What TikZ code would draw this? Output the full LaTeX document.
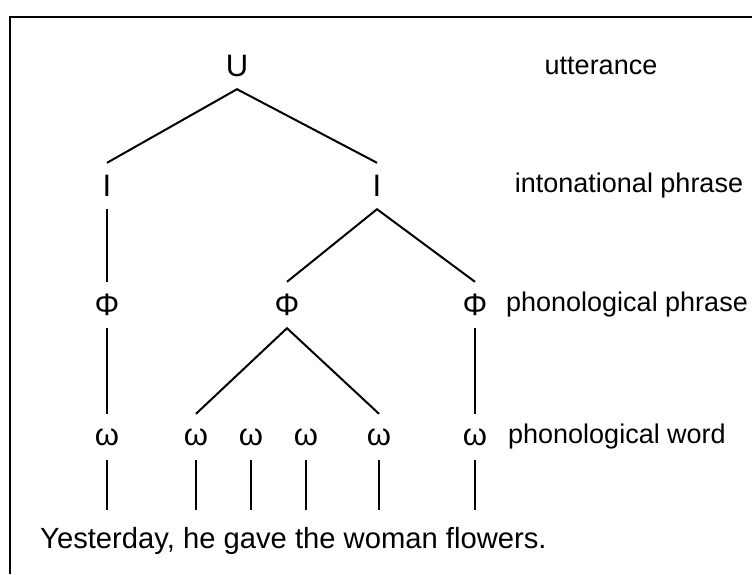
\documentclass[tikz,border=0pt]{standalone}
\usepackage{fontspec}
\setmainfont{Liberation Sans}
\usetikzlibrary{positioning}

\begin{document}
\begin{tikzpicture}[
  x=1pt, y=-1pt,
  unit/.style={inner sep=0pt, minimum height=46pt, font=\fontsize{31}{35}\selectfont},
  tierlabel/.style={inner sep=0pt, font=\fontsize{27}{31}\selectfont},
  branch/.style={line width=2pt},
  frame/.style={line width=2.5pt},
]
\useasboundingbox (0,0) rectangle (752,574);

% Rahmen (nur oben und links sichtbar)
\draw[frame] (752,17) -- (10,17) -- (10,574);

% Knoten der Hierarchie
\node[unit] (utt) at (237,66) {U};

\node[unit] (ip1) at (107,186) {I};
\node[unit] (ip2) at (377,186) {I};

\node[unit] (pp1) at (107,305) {Φ};
\node[unit] (pp2) at (287,305) {Φ};
\node[unit] (pp3) at (475,305) {Φ};

\node[unit] (pw1) at (107,437) {ω};
\node[unit] (pw2) at (196,437) {ω};
\node[unit] (pw3) at (251,437) {ω};
\node[unit] (pw4) at (306,437) {ω};
\node[unit] (pw5) at (379,437) {ω};
\node[unit] (pw6) at (475,437) {ω};

% Enden der Linien zum Satz
\foreach \i in {1,...,6}
  \coordinate (end\i) at (pw\i.south |- 0,510);

% Satz
\node[anchor=west, inner sep=0pt, font=\fontsize{29.2}{33}\selectfont] (sent) at (40,541)
  {Yesterday, he gave the woman flowers.};

% Ebenen
\node[tierlabel] (lab-u)  at (601,66)  {utterance};
\node[tierlabel] (lab-ip) at (629,186) {intonational phrase};
\node[tierlabel] (lab-pp) at (627,305) {phonological phrase};
\node[tierlabel] (lab-pw) at (617,437) {phonological word};

% Verzweigungen
\draw[branch] (ip1.north) -- (utt.south) -- (ip2.north);
\draw[branch] (ip1.south) -- (pp1.north);
\draw[branch] (pp2.north) -- (ip2.south) -- (pp3.north);
\draw[branch] (pp1.south) -- (pw1.north);
\draw[branch] (pw2.north) -- (pp2.south) -- (pw5.north);
\draw[branch] (pp3.south) -- (pw6.north);

% Linien zu den Wörtern
\foreach \i in {1,...,6}
  \draw[branch] (pw\i.south) -- (end\i);

\end{tikzpicture}
\end{document}
